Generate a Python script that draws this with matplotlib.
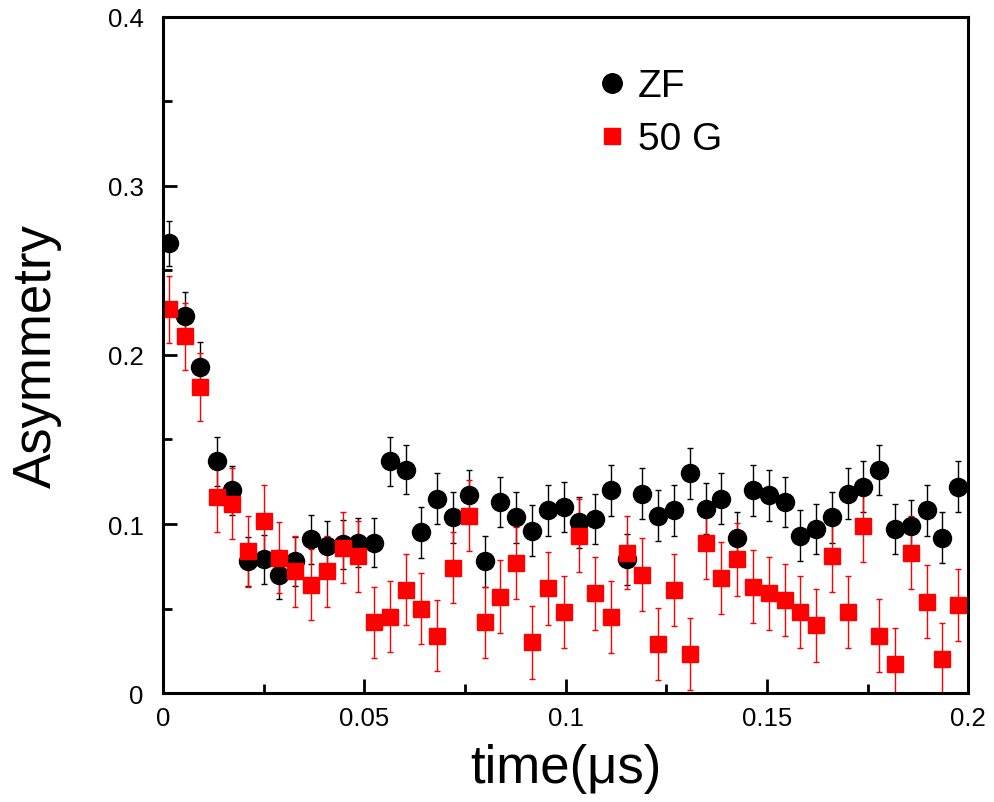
import matplotlib
matplotlib.use("Agg")
import matplotlib.pyplot as plt
from matplotlib.ticker import MultipleLocator

plt.rcParams['font.family'] = ['Liberation Sans', 'DejaVu Sans']

# time bins (us)
time_us = [0.0015, 0.0054, 0.0093, 0.0133, 0.0172, 0.0211, 0.0250, 0.0289, 0.0329, 0.0368,
           0.0407, 0.0446, 0.0485, 0.0525, 0.0564, 0.0603, 0.0642, 0.0681, 0.0721, 0.0760,
           0.0799, 0.0838, 0.0877, 0.0917, 0.0956, 0.0995, 0.1034, 0.1073, 0.1113, 0.1152,
           0.1191, 0.1230, 0.1269, 0.1309, 0.1348, 0.1387, 0.1426, 0.1465, 0.1505, 0.1544,
           0.1583, 0.1622, 0.1661, 0.1701, 0.1740, 0.1779, 0.1818, 0.1857, 0.1897, 0.1936,
           0.1975]

# zero field
zf_asym = [0.266, 0.223, 0.193, 0.137, 0.120, 0.078, 0.079, 0.070, 0.078, 0.091,
           0.087, 0.088, 0.089, 0.089, 0.137, 0.132, 0.095, 0.115, 0.104, 0.117,
           0.078, 0.113, 0.104, 0.096, 0.108, 0.110, 0.101, 0.103, 0.120, 0.079,
           0.118, 0.105, 0.108, 0.130, 0.109, 0.115, 0.092, 0.120, 0.117, 0.113,
           0.093, 0.097, 0.104, 0.118, 0.122, 0.132, 0.097, 0.099, 0.108, 0.092,
           0.122]
zf_err = [0.0135] + [0.0145] * 15 + [0.015] * 35

# 50 G longitudinal field
lf_asym = [0.227, 0.211, 0.181, 0.116, 0.112, 0.084, 0.102, 0.080, 0.072, 0.064,
           0.072, 0.086, 0.081, 0.042, 0.045, 0.061, 0.050, 0.034, 0.074, 0.105,
           0.042, 0.057, 0.077, 0.030, 0.062, 0.048, 0.093, 0.059, 0.045, 0.083,
           0.070, 0.029, 0.061, 0.023, 0.089, 0.068, 0.079, 0.063, 0.059, 0.055,
           0.048, 0.040, 0.081, 0.048, 0.099, 0.034, 0.017, 0.083, 0.054, 0.020,
           0.052]
lf_err = [0.020] * 3 + [0.021] * 18 + [0.0215] * 30

fig = plt.figure(figsize=(9.94, 8.03), dpi=100)
ax = fig.add_axes([0.164, 0.1357, 0.810, 0.842])

ax.errorbar(time_us, zf_asym, yerr=zf_err, fmt='o', color='black', ms=13,
            ecolor='black', elinewidth=1, capsize=2.5, capthick=1, label='ZF')
ax.errorbar(time_us, lf_asym, yerr=lf_err, fmt='s', color='#ff0000', ms=11,
            ecolor='#ff0000', elinewidth=1, capsize=2.5, capthick=1, label='50 G')

ax.set_xlim(0, 0.2)
ax.set_ylim(0, 0.4)
ax.xaxis.set_major_locator(MultipleLocator(0.05))
ax.xaxis.set_minor_locator(MultipleLocator(0.025))
ax.yaxis.set_major_locator(MultipleLocator(0.1))
ax.yaxis.set_minor_locator(MultipleLocator(0.05))
ax.xaxis.set_major_formatter(plt.FuncFormatter(lambda v, _: f"{v:g}"))
ax.yaxis.set_major_formatter(plt.FuncFormatter(lambda v, _: f"{v:g}"))

ax.tick_params(which='both', direction='in', width=2, top=False, right=False, labelsize=18.5)
ax.tick_params(which='major', length=10)
ax.tick_params(which='minor', length=6.5)
ax.tick_params(axis='y', pad=14)
ax.tick_params(axis='x', pad=9)
for sp in ax.spines.values():
    sp.set_linewidth(2.2)

ax.set_xlabel('time(μs)', fontsize=38, labelpad=10)
ax.set_ylabel('Asymmetry', fontsize=38, labelpad=33)

handles, labels = ax.get_legend_handles_labels()
handles = [h[0] for h in handles]
ax.legend(handles, labels, loc='upper left', bbox_to_anchor=(0.519, 0.947),
          frameon=False, fontsize=28, handlelength=0.8, handletextpad=0.27,
          labelspacing=0.44, borderaxespad=0, markerscale=1.08)

fig.savefig('out.png', dpi=100)
